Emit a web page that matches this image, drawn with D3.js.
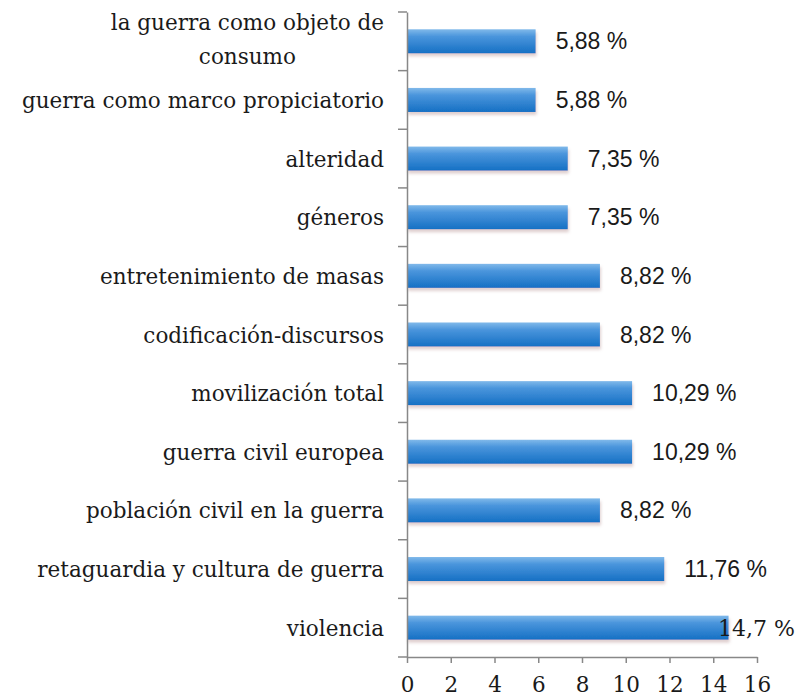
<!DOCTYPE html>
<html>
<head>
<meta charset="utf-8">
<script src="https://cdn.jsdelivr.net/npm/d3@7"></script>
<style>
  body { margin: 0; background: #fff; }
  svg { display: block; }
</style>
</head>
<body>
<svg width="797" height="700"></svg>
<script>
// datos (de arriba a abajo)
var categories = [
  "la guerra como objeto de\nconsumo",
  "guerra como marco propiciatorio",
  "alteridad",
  "géneros",
  "entretenimiento de masas",
  "codificación-discursos",
  "movilización total",
  "guerra civil europea",
  "población civil en la guerra",
  "retaguardia y cultura de guerra",
  "violencia"
];
var values = [5.88, 5.88, 7.35, 7.35, 8.82, 8.82, 10.29, 10.29, 8.82, 11.76, 14.7];
var xTicks = [0, 2, 4, 6, 8, 10, 12, 14, 16];

var W = 797, H = 700;
var serif = "'DejaVu Serif', serif";
var sans = "'Liberation Sans', Arial, sans-serif";

var es = d3.formatLocale({decimal: ",", thousands: ".", grouping: [3], currency: ["", " €"]});
var fmt = es.format(".2~f");

var svg = d3.select("svg");

var x = d3.scaleLinear().domain([0, 16]).range([407, 757]);
var y = d3.scaleBand().domain(categories).range([12, 657])
    .paddingInner(0.59).paddingOuter(0.295);

// degradado de las barras
var defs = svg.append("defs");
var grad = defs.append("linearGradient").attr("id", "barGrad")
    .attr("x1", 0).attr("y1", 0).attr("x2", 0).attr("y2", 1);
grad.append("stop").attr("offset", "0%").attr("stop-color", "#80b9ea");
grad.append("stop").attr("offset", "30%").attr("stop-color", "#4a95dc");
grad.append("stop").attr("offset", "100%").attr("stop-color", "#1570c4");

var shadow = defs.append("filter").attr("id", "shadow")
    .attr("x", "-5%").attr("y", "-30%").attr("width", "110%").attr("height", "180%");
shadow.append("feGaussianBlur").attr("in", "SourceAlpha").attr("stdDeviation", 1.4);
shadow.append("feOffset").attr("dx", 1).attr("dy", 3).attr("result", "off");
shadow.append("feFlood").attr("flood-color", "#c0a0a0").attr("flood-opacity", 0.5);
shadow.append("feComposite").attr("in2", "off").attr("operator", "in");
var merge = shadow.append("feMerge");
merge.append("feMergeNode");
merge.append("feMergeNode").attr("in", "SourceGraphic");

// barras
svg.append("g").selectAll("rect")
  .data(values)
  .join("rect")
    .attr("x", x(0))
    .attr("y", function(d, i) { return y(categories[i]); })
    .attr("width", function(d) { return x(d) - x(0); })
    .attr("height", y.bandwidth())
    .attr("fill", "url(#barGrad)")
    .attr("filter", "url(#shadow)");

// eje y
var yAxis = svg.append("g")
    .attr("transform", "translate(" + x(0) + ",0)")
    .call(d3.axisLeft(y).tickSize(0).tickSizeOuter(0).tickPadding(23));
yAxis.select(".domain").attr("stroke", "#888").attr("stroke-width", 1.5);
yAxis.selectAll("text")
    .attr("font-family", serif).attr("font-size", 21.5).attr("fill", "#1a1a1a")
    .attr("dy", null)
    .each(function(d) {
      var t = d3.select(this);
      var lines = d.split("\n");
      t.text(null);
      if (lines.length == 1) {
        t.append("tspan").attr("x", -23).attr("dy", 8).text(lines[0]);
        return;
      }
      // linea larga alineada a la derecha, el resto centrado sobre ella
      var probe = t.append("tspan").text(lines[0]);
      var w = probe.node().getComputedTextLength();
      probe.remove();
      t.attr("text-anchor", "middle");
      lines.forEach(function(l, k) {
        t.append("tspan").attr("x", -23 - w / 2)
          .attr("y", 8 - 19 + k * 34)
          .text(l);
      });
    });

// marcas entre categorias
var edges = d3.range(categories.length + 1).map(function(i) { return 12 + i * y.step(); });
svg.append("g").selectAll("line")
  .data(edges)
  .join("line")
    .attr("x1", x(0) - 9).attr("x2", x(0))
    .attr("y1", function(d) { return d; }).attr("y2", function(d) { return d; })
    .attr("stroke", "#888").attr("stroke-width", 1.5);

// eje x
var xAxis = svg.append("g")
    .attr("transform", "translate(0,657)")
    .call(d3.axisBottom(x).tickValues(xTicks).tickSize(6).tickSizeOuter(0).tickPadding(14));
xAxis.select(".domain").attr("stroke", "#888").attr("stroke-width", 1.5);
xAxis.selectAll(".tick line").attr("stroke", "#888").attr("stroke-width", 1.5);
xAxis.selectAll("text")
    .attr("font-family", serif).attr("font-size", 21.5).attr("fill", "#1a1a1a");

// etiquetas de valor
svg.append("g").selectAll("text")
  .data(values)
  .join("text")
    .attr("font-family", sans).attr("font-size", 23).attr("fill", "#1a1a1a")
    .attr("y", function(d, i) { return y(categories[i]) + y.bandwidth() / 2 + 8; })
    .text(function(d) { return fmt(d) + " %"; })
    .each(function(d) {
      var t = d3.select(this);
      var w = this.getComputedTextLength();
      var px = x(d) + 20;
      if (px + w > W - 2) {
        // no cabe: se pega al borde y se solapa con la barra
        t.attr("font-family", serif).attr("font-size", 22);
        w = this.getComputedTextLength();
        px = W - 2 - w;
      }
      t.attr("x", px);
    });
</script>
</body>
</html>
